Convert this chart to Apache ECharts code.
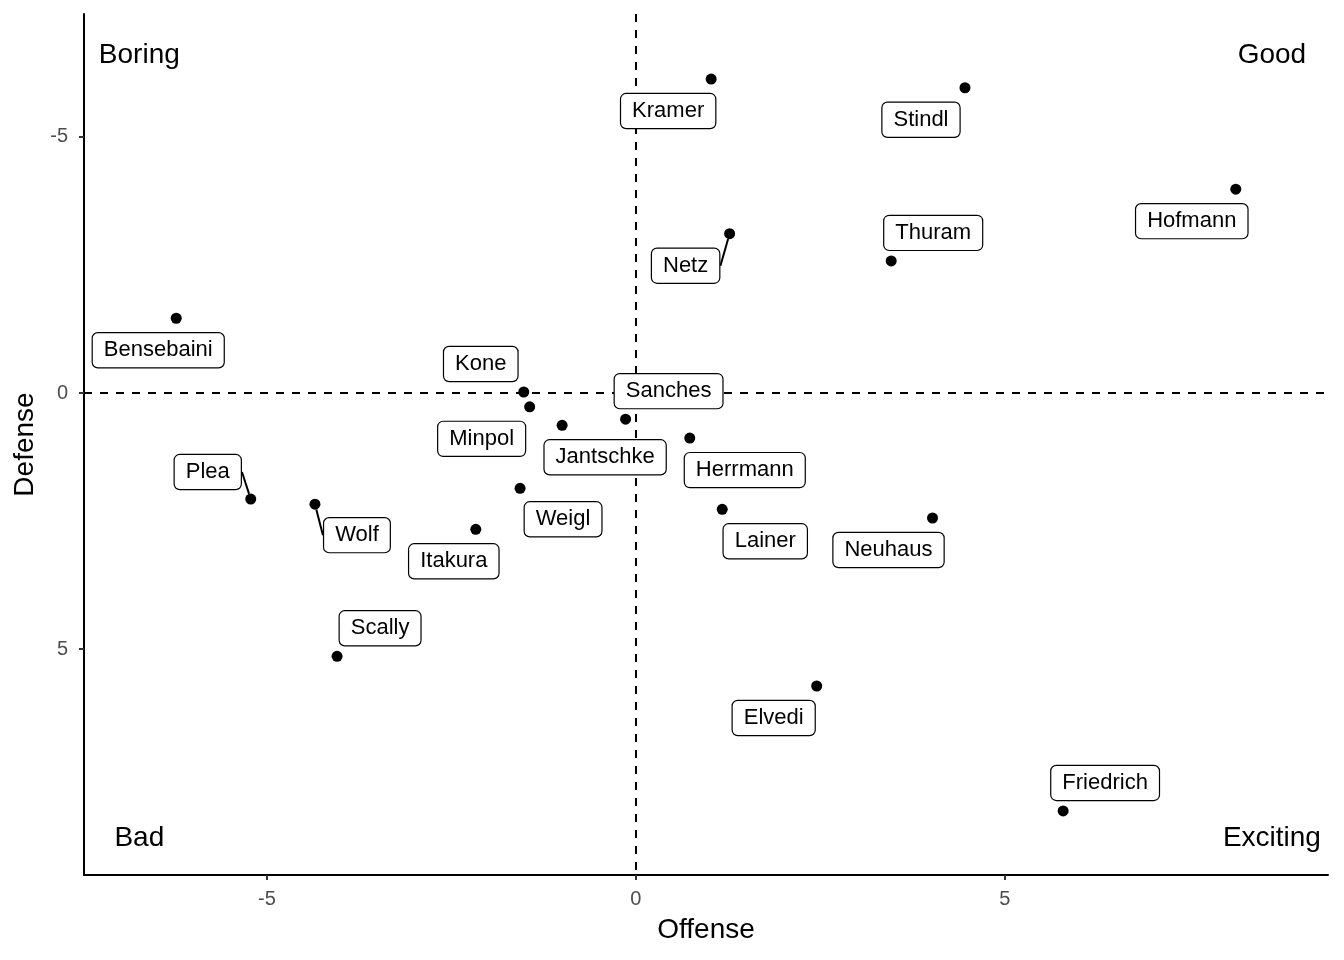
<!DOCTYPE html>
<html>
<head>
<meta charset="utf-8">
<script src="https://cdn.jsdelivr.net/npm/echarts@6/dist/echarts.min.js"></script>
<style>html,body{margin:0;padding:0;background:#fff;}#c{width:1344px;height:960px;}</style>
</head>
<body>
<div id="c"></div>
<script>
const players = ['Kramer','Stindl','Hofmann','Netz','Thuram','Bensebaini','Kone','Minpol','Jantschke','Sanches','Herrmann','Weigl','Plea','Wolf','Lainer','Neuhaus','Itakura','Scally','Elvedi','Friedrich'];
const offense = [1.02, 4.46, 8.13, 1.27, 3.46, -6.23, -1.52, -1.44, -1.00, -0.14, 0.73, -1.57, -5.22, -4.35, 1.17, 4.02, -2.17, -4.05, 2.45, 5.79];
const defense = [-6.13, -5.96, -3.98, -3.11, -2.58, -1.46, -0.02, 0.27, 0.63, 0.51, 0.88, 1.86, 2.07, 2.17, 2.27, 2.44, 2.66, 5.14, 5.72, 8.16];
const quadrantNames = ['Boring', 'Good', 'Bad', 'Exciting'];
const quadrantX = [-6.73, 8.62, -6.73, 8.62];
const quadrantY = [-6.6, -6.6, 8.69, 8.69];
const xTicks = [-5, 0, 5];
const yTicks = [-5, 0, 5];

// label layout (pixel shifts of repelled labels)
const labelShift = [[-43,32],[-44,32],[-44,32],[-44,32],[42,-28],[-18,32],[-43,-28],[-48,32],[43,32],[43,-28],[55,32],[43,31],[-43,-27],[42,31],[43,32],[-44,32],[-22,32],[43,-28],[-43,32],[42,-28]];
const withSegment = ['Netz','Plea','Wolf'];

const font = '"Liberation Sans", Arial, Helvetica, sans-serif';
const chart = echarts.init(document.getElementById('c'));

const pts = players.map((n, i) => ({
  name: n,
  value: [offense[i], defense[i]],
  labelLine: { show: withSegment.includes(n) }
}));

chart.setOption({
  animation: false,
  grid: { left: 84, right: 16, top: 14, bottom: 85 },
  xAxis: {
    type: 'value', min: -7.48, max: 9.38,
    name: 'Offense', nameLocation: 'middle', nameGap: 41,
    nameTextStyle: { fontSize: 28, color: '#000', fontFamily: font },
    splitLine: { show: false },
    axisLine: { onZero: false, lineStyle: { color: '#000', width: 2 } },
    axisTick: { customValues: xTicks, length: 5, lineStyle: { color: '#333', width: 2 } },
    axisLabel: { customValues: xTicks, fontSize: 20, color: '#4d4d4d', margin: 14, fontFamily: font }
  },
  yAxis: {
    type: 'value', inverse: true, min: -7.40, max: 9.41,
    name: 'Defense', nameLocation: 'middle', nameGap: 44,
    nameTextStyle: { fontSize: 28, color: '#000', fontFamily: font },
    splitLine: { show: false },
    axisLine: { onZero: false, lineStyle: { color: '#000', width: 2 } },
    axisTick: { customValues: yTicks, length: 5, lineStyle: { color: '#333', width: 2 } },
    axisLabel: { customValues: yTicks, fontSize: 20, color: '#4d4d4d', margin: 16, fontFamily: font }
  },
  series: [
    {
      type: 'scatter', data: [], silent: true, z: 1,
      markLine: {
        z: 1, silent: true, symbol: 'none', animation: false,
        label: { show: false },
        lineStyle: { color: '#000', type: [8, 8], width: 2, opacity: 1 },
        data: [{ xAxis: 0 }, { yAxis: 0 }]
      }
    },
    {
      type: 'scatter', z: 10,
      symbolSize: 11,
      itemStyle: { color: '#000', opacity: 1 },
      data: pts,
      label: {
        show: true, position: 'inside',
        formatter: p => p.name,
        fontSize: 22, color: '#000', fontFamily: font,
        backgroundColor: '#fff', borderColor: '#000', borderWidth: 1.2,
        borderRadius: 5, padding: [6, 11], lineHeight: 22
      },
      labelLine: { show: false, lineStyle: { color: '#000', width: 2, opacity: 1 } },
      labelLayout: p => ({ dx: labelShift[p.dataIndex][0], dy: labelShift[p.dataIndex][1] })
    },
    {
      type: 'scatter', z: 2, symbolSize: 0, silent: true,
      itemStyle: { opacity: 1 },
      data: quadrantNames.map((n, i) => ({ name: n, value: [quadrantX[i], quadrantY[i]] })),
      label: { show: true, position: 'inside', formatter: p => p.name, fontSize: 28, color: '#000', fontFamily: font }
    }
  ]
});
</script>
</body>
</html>
